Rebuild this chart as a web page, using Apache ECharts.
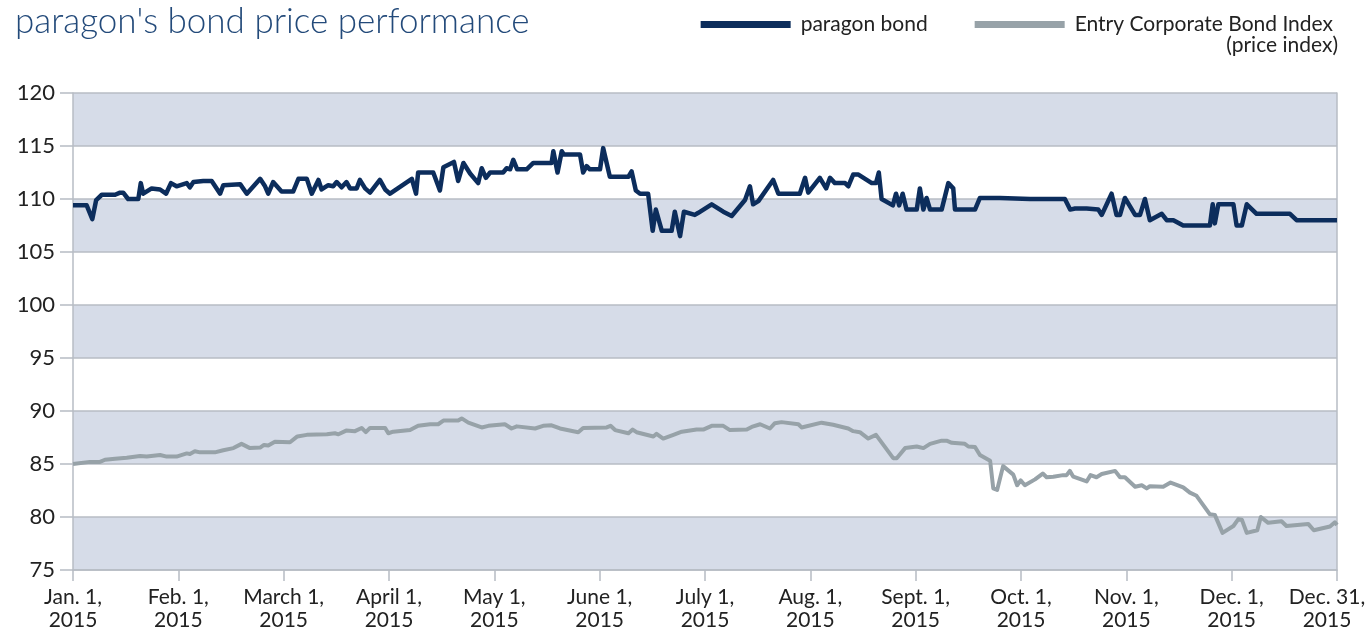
<!DOCTYPE html>
<html>
<head>
<meta charset="utf-8">
<script src="https://cdn.jsdelivr.net/npm/echarts@6/dist/echarts.min.js"></script>
<style>
  html, body { margin: 0; padding: 0; background: #fff; }
  #chart { width: 1366px; height: 631px; }
</style>
</head>
<body>
<div id="chart"></div>
<script>
// x runs 0..360, 30 units per month tick
var monthLabels = ['Jan. 1,', 'Feb. 1,', 'March 1,', 'April 1,', 'May 1,', 'June 1,', 'July 1,',
  'Aug. 1,', 'Sept. 1,', 'Oct. 1,', 'Nov. 1,', 'Dec. 1,', 'Dec. 31,'];
var yearLabel = '2015';

var paragonX = [0, 3.9, 5.5, 6.6, 8.2, 12, 13.4, 14.3, 15.7, 18.6, 19.3, 20, 22.4, 24.8, 26.5, 27.9, 29.5,
  32.4, 33.3, 34.3, 37.1, 39.5, 41.9, 42.8, 47.6, 49.5, 53.3, 54.7, 55.6, 57, 59.4, 62.7, 64.2, 66.6,
  68, 69.9, 70.8, 72.7, 74.1, 75.1, 76.5, 77.9, 78.9, 80.8, 81.7, 83.2, 84.6, 87.4, 88.9, 90.3,
  96.5, 97.7, 98.3, 102.6, 104.5, 105.5, 108.5, 109.7, 111.2, 113.1, 115.4, 116.4, 117.6, 118.8,
  122.5, 123.5, 124.5, 125.4, 126.5, 129.2, 131.1, 136.3, 136.8, 138, 139.2, 139.8, 144.4, 145.3,
  146.3, 147.2, 150.1, 151, 152.9, 158.2, 159.1, 160.3, 161.5, 163.8, 165.1, 166, 167.7, 170.5,
  171.4, 172.9, 174, 177.1, 178.1, 181.9, 185.2, 187.6, 191.4, 192.8, 193.7, 195.2, 199.4, 200.9,
  207, 208.5, 209.4, 212.7, 214.5, 215.6, 217, 219.9, 220.8, 222.2, 223.7, 227.5, 228.7, 229.5,
  230.3, 233.5, 234.4, 235.3, 236.3, 237.4, 240.3, 241.2, 242.2, 243.1, 244.1, 247.4, 249.3, 250.7,
  251.2, 256.9, 258.3, 264, 272.6, 282.5, 284, 285.4, 288.7, 292, 293, 295.8, 297.2, 298.2, 299.6,
  302.5, 303.9, 305.3, 306.7, 310.1, 311.5, 313.4, 316.2, 323.8, 324.6, 325.2, 326.2, 330.5, 331.4,
  332.9, 334.3, 337.1, 346.6, 348.5, 360];
var paragonY = [109.4, 109.4, 108.1, 109.9, 110.4, 110.4, 110.6, 110.6, 110.0, 110.0, 111.5, 110.5, 111.0, 110.9, 110.5, 111.5, 111.2,
  111.5, 111.1, 111.6, 111.7, 111.7, 110.5, 111.3, 111.4, 110.5, 111.9, 111.2, 110.5, 111.6, 110.7, 110.7, 111.9, 111.9,
  110.5, 111.8, 110.9, 111.3, 111.2, 111.6, 111.1, 111.6, 111.0, 111.0, 111.8, 111.0, 110.6, 111.8, 110.9, 110.5,
  111.9, 110.5, 112.5, 112.5, 110.8, 113.0, 113.5, 111.7, 113.4, 112.4, 111.5, 112.9, 112.0, 112.5,
  112.5, 112.9, 112.8, 113.7, 112.8, 112.8, 113.4, 113.4, 114.5, 112.5, 114.5, 114.2, 114.2, 112.5,
  113.1, 112.8, 112.8, 114.8, 112.1, 112.1, 112.6, 110.8, 110.5, 110.5, 107.0, 109.0, 107.0, 107.0,
  108.8, 106.5, 108.8, 108.5, 108.7, 109.5, 108.8, 108.4, 109.9, 111.2, 109.5, 109.8, 111.8, 110.5,
  110.5, 112.0, 110.6, 112.0, 111.0, 112.0, 111.5, 111.5, 111.2, 112.3, 112.3, 111.5, 111.5, 112.5,
  110.0, 109.4, 110.5, 109.4, 110.5, 109.0, 109.0, 111.0, 109.0, 110.1, 109.0, 109.0, 111.5, 111.0,
  109.0, 109.0, 110.1, 110.1, 110.0, 110.0, 109.0, 109.1, 109.1, 109.0, 108.5, 110.5, 108.5, 108.5, 110.1,
  108.5, 108.5, 110.0, 108.0, 108.6, 108.0, 108.0, 107.5, 107.5, 109.5, 107.7, 109.5, 109.5, 107.5,
  107.5, 109.5, 108.6, 108.6, 108.0, 108.0];

var indexX = [0, 4.8, 7.7, 9.1, 12, 15.3, 19.1, 21, 24.8, 26.7, 29.5, 32.4, 33.3, 34.7, 36.2, 40.4, 42.8,
  45.7, 48, 50.4, 53.3, 54.4, 55.6, 57.5, 61.8, 63.9, 66.6, 72.3, 74.6, 75.6, 77.8, 80.3, 82.2, 83.4,
  84.6, 88.9, 89.8, 91.2, 96, 98.3, 101.7, 104, 105.5, 109.7, 110.7, 112.6, 116.4, 118.3, 123, 124.9,
  126.4, 131.6, 133.9, 136.3, 138.7, 143.9, 145.3, 152, 153.1, 154.4, 158.2, 159.4, 160.5, 165.3,
  166.2, 168.1, 171, 173.4, 177.6, 179.5, 181.9, 185.2, 187.1, 191.9, 193.3, 195.7, 198.5, 199.9,
  201.8, 206.6, 207.5, 213.2, 216.5, 220.8, 222.2, 224.1, 226.5, 228.7, 233.6, 234.6, 237, 240.3,
  242.2, 244.1, 247.4, 248.8, 250.3, 254, 255, 256.9, 258.3, 261.2, 262.1, 263.2, 264.9, 267.8,
  268.9, 269.9, 271.1, 274, 276.2, 277.3, 279.2, 282, 283, 283.9, 284.9, 288.7, 289.8, 291.5, 293,
  296.8, 298.2, 299.6, 302.5, 304.4, 305.8, 306.7, 310.5, 312.6, 316.2, 318.1, 320, 323.8, 325.2,
  327.4, 330.5, 331.9, 332.9, 334.3, 337.3, 338.3, 340.4, 344.2, 345.6, 351.8, 353.4, 358, 359.4, 360];
var indexY = [85.0, 85.2, 85.2, 85.4, 85.5, 85.6, 85.75, 85.7, 85.85, 85.7, 85.7, 86.0, 85.95, 86.2, 86.1, 86.1, 86.3,
  86.5, 86.9, 86.5, 86.55, 86.8, 86.75, 87.1, 87.05, 87.6, 87.75, 87.8, 87.9, 87.8, 88.15, 88.1, 88.4, 88.0,
  88.4, 88.4, 87.9, 88.05, 88.2, 88.6, 88.75, 88.75, 89.1, 89.1, 89.3, 88.9, 88.45, 88.6, 88.75, 88.35,
  88.55, 88.35, 88.6, 88.65, 88.35, 88.0, 88.4, 88.45, 88.6, 88.2, 87.9, 88.25, 88.0, 87.6,
  87.85, 87.4, 87.75, 88.05, 88.25, 88.25, 88.6, 88.6, 88.2, 88.25, 88.5, 88.75, 88.35, 88.85,
  88.95, 88.75, 88.45, 88.9, 88.7, 88.35, 88.1, 88.0, 87.4, 87.75, 85.55, 85.55, 86.5, 86.65,
  86.5, 86.9, 87.2, 87.2, 87.0, 86.9, 86.65, 86.6, 85.85, 85.3, 82.7, 82.55, 84.8, 84.0,
  83.0, 83.45, 83.0, 83.55, 84.1, 83.75, 83.8, 83.95, 83.95, 84.35, 83.8, 83.35, 83.95, 83.75, 84.05,
  84.35, 83.75, 83.75, 82.85, 83.0, 82.7, 82.9, 82.85, 83.25, 82.8, 82.3, 82.0, 80.25, 80.2,
  78.5, 79.15, 79.8, 79.75, 78.5, 78.75, 80.0, 79.45, 79.6, 79.15, 79.35, 78.75, 79.1, 79.5, 79.25];

function pairs(xs, ys) {
  return xs.map(function (x, i) { return [x, ys[i]]; });
}

var chart = echarts.init(document.getElementById('chart'));
var gridColor = '#b7bcc4';
var font = 'Lato';

chart.setOption({
  animation: false,
  textStyle: { fontFamily: font },
  title: {
    text: "paragon's bond price performance",
    left: 10,
    top: -1,
    textStyle: { fontFamily: font, fontSize: 35, fontWeight: 300, color: '#234a7a' }
  },
  legend: {
    top: 9,
    right: 28,
    icon: 'rect',
    itemWidth: 90,
    itemHeight: 7,
    itemGap: 47,
    textStyle: { fontFamily: font, fontSize: 21, color: '#222', padding: [0, 0, 0, 5] },
    data: ['paragon bond', 'Entry Corporate Bond Index']
  },
  graphic: [{
    type: 'text',
    right: 28,
    top: 35,
    style: { text: '(price index)', font: '21px Lato', fill: '#222' }
  }],
  grid: { left: 73, right: 29, top: 93, bottom: 61, outerBoundsMode: 'none', containLabel: false },
  xAxis: {
    type: 'value',
    min: 0,
    max: 360,
    interval: 30,
    axisLine: { show: true, lineStyle: { color: gridColor, width: 1.5 } },
    axisTick: { show: true, length: 11, lineStyle: { color: gridColor, width: 1.5 } },
    splitLine: { show: false },
    axisLabel: {
      fontFamily: font,
      fontSize: 21,
      color: '#222',
      lineHeight: 23,
      margin: 16,
      formatter: function (v) {
        var i = Math.round(v / 30);
        if (i === monthLabels.length - 1) {
          return '{end|' + monthLabels[i] + '}\n{end|' + yearLabel + '}';
        }
        return monthLabels[i] + '\n' + yearLabel;
      },
      rich: {
        end: { fontFamily: font, fontSize: 21, color: '#222', lineHeight: 23, padding: [0, 20, 0, 0] }
      }
    }
  },
  yAxis: [{
    type: 'value',
    min: 75,
    max: 120,
    interval: 5,
    axisLine: { show: true, lineStyle: { color: gridColor, width: 1.5 } },
    axisTick: { show: true, length: 13, lineStyle: { color: gridColor, width: 1.5 } },
    axisLabel: { fontFamily: font, fontSize: 22, color: '#222', margin: 18 },
    splitLine: { show: true, lineStyle: { color: gridColor, width: 1.5 } },
    splitArea: { show: true, areaStyle: { color: ['#d6dce8', '#ffffff'] } }
  }, {
    type: 'value',
    position: 'right',
    min: 75,
    max: 120,
    interval: 5,
    axisLine: { show: true, lineStyle: { color: gridColor, width: 1.5 } },
    axisTick: { show: false },
    axisLabel: { show: false },
    splitLine: { show: false }
  }],
  series: [{
    name: 'Entry Corporate Bond Index',
    type: 'line',
    data: pairs(indexX, indexY),
    showSymbol: false,
    lineStyle: { color: '#97a2a8', width: 4, join: 'round' },
    itemStyle: { color: '#97a2a8' }
  }, {
    name: 'paragon bond',
    type: 'line',
    data: pairs(paragonX, paragonY),
    showSymbol: false,
    lineStyle: { color: '#0c2d5c', width: 4.5, join: 'round' },
    itemStyle: { color: '#0c2d5c' }
  }]
});
</script>
</body>
</html>
